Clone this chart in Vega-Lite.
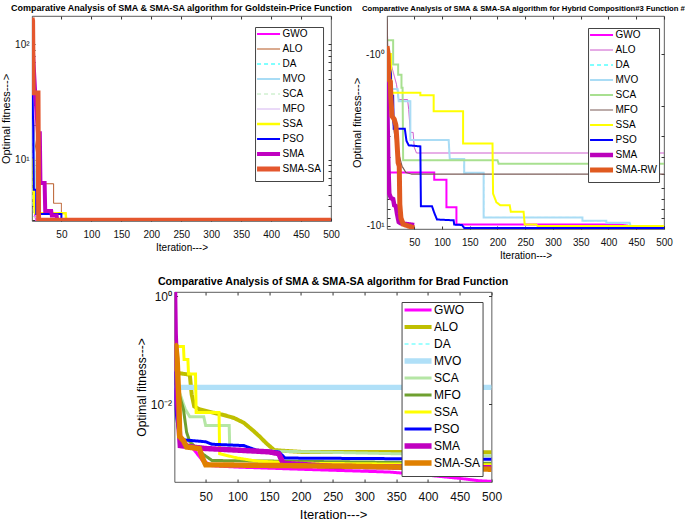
{
"$schema": "https://vega.github.io/schema/vega-lite/v6.json",
"background": "white",
"padding": {"left": 0, "top": 3, "right": 0, "bottom": 0},
"config": {
  "font": "Liberation Sans",
  "view": {"stroke": "#333", "strokeWidth": 0.8},
  "axis": {"grid": false, "domain": false, "tickColor": "#333", "labelColor": "#111", "titleColor": "#000", "titleFontWeight": "normal", "labelFont": "Liberation Sans", "titleFont": "Liberation Sans", "labelFlush": false, "labelOverlap": false},
  "title": {"font": "Liberation Sans", "fontWeight": "bold", "color": "#000"},
  "legend": {"title": null, "orient": "none", "symbolType": "M-5.75,0H5.75", "symbolSize": 16, "padding": 2, "symbolOffset": 6.5, "labelOffset": 9, "fillColor": "#fff", "strokeColor": "#444", "labelColor": "#000", "labelLimit": 200, "gridAlign": "all"}
},
"datasets": {
 "p1": [
  {"s":"GWO","x":1,"y":135},{"s":"GWO","x":2,"y":53},{"s":"GWO","x":3,"y":40},{"s":"GWO","x":4,"y":12},{"s":"GWO","x":5,"y":5},{"s":"GWO","x":6,"y":3.3},{"s":"GWO","x":8,"y":3.0},{"s":"GWO","x":500,"y":3.0},
  {"s":"ALO","x":1,"y":60},{"s":"ALO","x":5,"y":15},{"s":"ALO","x":10,"y":10.3},{"s":"ALO","x":12,"y":10.3},{"s":"ALO","x":13,"y":6.2},{"s":"ALO","x":37,"y":6.2},{"s":"ALO","x":37,"y":4.2},{"s":"ALO","x":50,"y":4.2},{"s":"ALO","x":50,"y":3.0},{"s":"ALO","x":500,"y":3.0},
  {"s":"DA","x":1,"y":51},{"s":"DA","x":3,"y":20},{"s":"DA","x":5,"y":10},{"s":"DA","x":7,"y":5.5},{"s":"DA","x":12,"y":3.2},{"s":"DA","x":14,"y":3.0},{"s":"DA","x":500,"y":3.0},
  {"s":"MVO","x":1,"y":51},{"s":"MVO","x":3,"y":20},{"s":"MVO","x":5,"y":10},{"s":"MVO","x":7,"y":5.5},{"s":"MVO","x":12,"y":3.2},{"s":"MVO","x":14,"y":3.0},{"s":"MVO","x":500,"y":3.0},
  {"s":"SCA","x":1,"y":20},{"s":"SCA","x":2,"y":4.4},{"s":"SCA","x":4,"y":3.2},{"s":"SCA","x":20,"y":3.05},{"s":"SCA","x":500,"y":3.0},
  {"s":"MFO","x":1,"y":30},{"s":"MFO","x":4,"y":5},{"s":"MFO","x":8,"y":3.0},{"s":"MFO","x":500,"y":3.0},
  {"s":"SSA","x":1,"y":10},{"s":"SSA","x":3,"y":10},{"s":"SSA","x":4,"y":4.5},{"s":"SSA","x":6,"y":3.45},{"s":"SSA","x":57,"y":3.45},{"s":"SSA","x":58,"y":3.0},{"s":"SSA","x":500,"y":3.0},
  {"s":"PSO","x":1,"y":100},{"s":"PSO","x":2,"y":32},{"s":"PSO","x":3,"y":19},{"s":"PSO","x":4,"y":5.5},{"s":"PSO","x":8,"y":5.5},{"s":"PSO","x":8,"y":3.4},{"s":"PSO","x":50,"y":3.4},{"s":"PSO","x":50,"y":3.04},{"s":"PSO","x":500,"y":3.04},
  {"s":"SMA","x":1,"y":120},{"s":"SMA","x":6,"y":40},{"s":"SMA","x":11,"y":17},{"s":"SMA","x":14,"y":17},{"s":"SMA","x":15,"y":6.3},{"s":"SMA","x":22,"y":6.3},{"s":"SMA","x":23,"y":3.6},{"s":"SMA","x":33,"y":3.6},{"s":"SMA","x":34,"y":3.3},{"s":"SMA","x":42,"y":3.3},{"s":"SMA","x":43,"y":3.0},{"s":"SMA","x":500,"y":3.0},
  {"s":"SMA-SA","x":1,"y":170},{"s":"SMA-SA","x":2,"y":160},{"s":"SMA-SA","x":3,"y":38},{"s":"SMA-SA","x":11,"y":38},{"s":"SMA-SA","x":12,"y":3.0},{"s":"SMA-SA","x":500,"y":3.0}
 ],
 "p2": [
  {"s":"GWO","x":1,"y":-1.3},{"s":"GWO","x":3,"y":-4.9},{"s":"GWO","x":86,"y":-4.9},{"s":"GWO","x":86,"y":-5.4},{"s":"GWO","x":108,"y":-5.4},{"s":"GWO","x":108,"y":-7.8},{"s":"GWO","x":126,"y":-7.8},{"s":"GWO","x":126,"y":-9.85},{"s":"GWO","x":420,"y":-9.85},{"s":"GWO","x":440,"y":-10.05},{"s":"GWO","x":500,"y":-10.05},
  {"s":"ALO","x":1,"y":-0.9},{"s":"ALO","x":10,"y":-1.2},{"s":"ALO","x":18,"y":-1.5},{"s":"ALO","x":22,"y":-1.84},{"s":"ALO","x":38,"y":-1.84},{"s":"ALO","x":40,"y":-2.1},{"s":"ALO","x":43,"y":-2.86},{"s":"ALO","x":48,"y":-2.86},{"s":"ALO","x":50,"y":-3.49},{"s":"ALO","x":54,"y":-3.77},{"s":"ALO","x":500,"y":-3.77},
  {"s":"DA","x":1,"y":-0.9},{"s":"DA","x":8,"y":-1.4},{"s":"DA","x":9,"y":-1.6},{"s":"DA","x":20,"y":-1.6},{"s":"DA","x":22,"y":-1.88},{"s":"DA","x":43,"y":-1.88},{"s":"DA","x":43,"y":-3.17},{"s":"DA","x":112,"y":-3.17},{"s":"DA","x":114,"y":-4.08},{"s":"DA","x":140,"y":-4.08},{"s":"DA","x":140,"y":-4.92},{"s":"DA","x":175,"y":-4.92},{"s":"DA","x":175,"y":-8.95},{"s":"DA","x":353,"y":-8.95},{"s":"DA","x":353,"y":-9.35},{"s":"DA","x":396,"y":-9.35},{"s":"DA","x":396,"y":-9.6},{"s":"DA","x":438,"y":-9.6},{"s":"DA","x":440,"y":-10.1},{"s":"DA","x":500,"y":-10.1},
  {"s":"MVO","x":1,"y":-0.9},{"s":"MVO","x":8,"y":-1.4},{"s":"MVO","x":9,"y":-1.6},{"s":"MVO","x":20,"y":-1.6},{"s":"MVO","x":22,"y":-1.88},{"s":"MVO","x":43,"y":-1.88},{"s":"MVO","x":43,"y":-3.17},{"s":"MVO","x":112,"y":-3.17},{"s":"MVO","x":114,"y":-4.08},{"s":"MVO","x":140,"y":-4.08},{"s":"MVO","x":140,"y":-4.92},{"s":"MVO","x":175,"y":-4.92},{"s":"MVO","x":175,"y":-8.95},{"s":"MVO","x":353,"y":-8.95},{"s":"MVO","x":353,"y":-9.35},{"s":"MVO","x":396,"y":-9.35},{"s":"MVO","x":396,"y":-9.6},{"s":"MVO","x":438,"y":-9.6},{"s":"MVO","x":440,"y":-10.1},{"s":"MVO","x":500,"y":-10.1},
  {"s":"SCA","x":1,"y":-0.83},{"s":"SCA","x":12,"y":-0.83},{"s":"SCA","x":12,"y":-1.15},{"s":"SCA","x":21,"y":-1.15},{"s":"SCA","x":21,"y":-1.32},{"s":"SCA","x":27,"y":-1.32},{"s":"SCA","x":27,"y":-1.57},{"s":"SCA","x":29,"y":-1.57},{"s":"SCA","x":30,"y":-4.15},{"s":"SCA","x":200,"y":-4.15},{"s":"SCA","x":202,"y":-4.35},{"s":"SCA","x":500,"y":-4.35},
  {"s":"MFO","x":1,"y":-0.62},{"s":"MFO","x":3,"y":-1.2},{"s":"MFO","x":8,"y":-2.0},{"s":"MFO","x":15,"y":-3.0},{"s":"MFO","x":22,"y":-3.8},{"s":"MFO","x":28,"y":-4.5},{"s":"MFO","x":35,"y":-4.9},{"s":"MFO","x":45,"y":-5.0},{"s":"MFO","x":500,"y":-5.0},
  {"s":"SSA","x":1,"y":-1.0},{"s":"SSA","x":8,"y":-1.0},{"s":"SSA","x":9,"y":-1.68},{"s":"SSA","x":61,"y":-1.68},{"s":"SSA","x":61,"y":-1.74},{"s":"SSA","x":85,"y":-1.74},{"s":"SSA","x":85,"y":-2.15},{"s":"SSA","x":138,"y":-2.15},{"s":"SSA","x":138,"y":-3.32},{"s":"SSA","x":191,"y":-3.32},{"s":"SSA","x":192,"y":-6.5},{"s":"SSA","x":198,"y":-7.3},{"s":"SSA","x":205,"y":-7.6},{"s":"SSA","x":222,"y":-7.6},{"s":"SSA","x":224,"y":-8.3},{"s":"SSA","x":247,"y":-8.3},{"s":"SSA","x":249,"y":-9.85},{"s":"SSA","x":270,"y":-9.85},{"s":"SSA","x":272,"y":-10.05},{"s":"SSA","x":500,"y":-10.05},
  {"s":"PSO","x":1,"y":-1.0},{"s":"PSO","x":8,"y":-1.3},{"s":"PSO","x":9,"y":-1.75},{"s":"PSO","x":12,"y":-1.75},{"s":"PSO","x":13,"y":-2.72},{"s":"PSO","x":33,"y":-2.72},{"s":"PSO","x":36,"y":-3.2},{"s":"PSO","x":40,"y":-3.4},{"s":"PSO","x":61,"y":-3.45},{"s":"PSO","x":62,"y":-7.7},{"s":"PSO","x":82,"y":-7.7},{"s":"PSO","x":86,"y":-8.4},{"s":"PSO","x":91,"y":-9.2},{"s":"PSO","x":121,"y":-9.3},{"s":"PSO","x":122,"y":-9.85},{"s":"PSO","x":136,"y":-9.9},{"s":"PSO","x":140,"y":-10.3},{"s":"PSO","x":500,"y":-10.3},
  {"s":"SMA","x":1,"y":-1.4},{"s":"SMA","x":2,"y":-2.5},{"s":"SMA","x":3,"y":-4.0},{"s":"SMA","x":4,"y":-5.2},{"s":"SMA","x":5,"y":-6.5},{"s":"SMA","x":8,"y":-6.9},{"s":"SMA","x":12,"y":-7.0},{"s":"SMA","x":14,"y":-7.6},{"s":"SMA","x":17,"y":-7.7},{"s":"SMA","x":19,"y":-8.5},{"s":"SMA","x":22,"y":-9.5},{"s":"SMA","x":26,"y":-9.7},{"s":"SMA","x":50,"y":-9.9},
  {"s":"SMA-RW","x":1,"y":-0.9},{"s":"SMA-RW","x":3,"y":-1.0},{"s":"SMA-RW","x":4,"y":-1.4},{"s":"SMA-RW","x":7,"y":-1.45},{"s":"SMA-RW","x":8,"y":-1.8},{"s":"SMA-RW","x":10,"y":-2.3},{"s":"SMA-RW","x":14,"y":-2.4},{"s":"SMA-RW","x":17,"y":-2.6},{"s":"SMA-RW","x":19,"y":-3.3},{"s":"SMA-RW","x":21,"y":-4.3},{"s":"SMA-RW","x":23,"y":-4.5},{"s":"SMA-RW","x":24,"y":-7.5},{"s":"SMA-RW","x":26,"y":-9.0},{"s":"SMA-RW","x":30,"y":-9.8},{"s":"SMA-RW","x":38,"y":-10.0},{"s":"SMA-RW","x":50,"y":-10.3}
 ],
 "p3": [
  {"s":"GWO","x":1,"y":0.02},{"s":"GWO","x":4,"y":0.008},{"s":"GWO","x":10,"y":0.0025},{"s":"GWO","x":20,"y":0.0018},{"s":"GWO","x":30,"y":0.0015},{"s":"GWO","x":45,"y":0.0009},{"s":"GWO","x":60,"y":0.00072},{"s":"GWO","x":100,"y":0.00068},{"s":"GWO","x":200,"y":0.00062},{"s":"GWO","x":340,"y":0.00055},{"s":"GWO","x":400,"y":0.00048},{"s":"GWO","x":450,"y":0.00042},{"s":"GWO","x":480,"y":0.00038},{"s":"GWO","x":500,"y":0.00037},
  {"s":"ALO","x":1,"y":0.05},{"s":"ALO","x":5,"y":0.04},{"s":"ALO","x":10,"y":0.037},{"s":"ALO","x":25,"y":0.035},{"s":"ALO","x":28,"y":0.015},{"s":"ALO","x":32,"y":0.009},{"s":"ALO","x":40,"y":0.008},{"s":"ALO","x":60,"y":0.007},{"s":"ALO","x":80,"y":0.0062},{"s":"ALO","x":95,"y":0.0055},{"s":"ALO","x":110,"y":0.0045},{"s":"ALO","x":125,"y":0.0032},{"s":"ALO","x":135,"y":0.0025},{"s":"ALO","x":145,"y":0.0019},{"s":"ALO","x":158,"y":0.0014},{"s":"ALO","x":200,"y":0.0013},{"s":"ALO","x":500,"y":0.00128},
  {"s":"DA","x":1,"y":0.0204},{"s":"DA","x":500,"y":0.0204},
  {"s":"MVO","x":1,"y":0.0204},{"s":"MVO","x":500,"y":0.0204},
  {"s":"SCA","x":1,"y":0.03},{"s":"SCA","x":10,"y":0.015},{"s":"SCA","x":15,"y":0.01},{"s":"SCA","x":18,"y":0.008},{"s":"SCA","x":25,"y":0.0058},{"s":"SCA","x":47,"y":0.0058},{"s":"SCA","x":50,"y":0.004},{"s":"SCA","x":87,"y":0.004},{"s":"SCA","x":88,"y":0.0014},{"s":"SCA","x":500,"y":0.0011},
  {"s":"MFO","x":1,"y":0.03},{"s":"MFO","x":15,"y":0.008},{"s":"MFO","x":20,"y":0.003},{"s":"MFO","x":25,"y":0.002},{"s":"MFO","x":45,"y":0.0012},{"s":"MFO","x":60,"y":0.0009},{"s":"MFO","x":500,"y":0.0008},
  {"s":"SSA","x":1,"y":0.15},{"s":"SSA","x":4,"y":0.12},{"s":"SSA","x":8,"y":0.117},{"s":"SSA","x":15,"y":0.117},{"s":"SSA","x":16,"y":0.067},{"s":"SSA","x":22,"y":0.067},{"s":"SSA","x":23,"y":0.036},{"s":"SSA","x":34,"y":0.036},{"s":"SSA","x":35,"y":0.007},{"s":"SSA","x":71,"y":0.007},{"s":"SSA","x":72,"y":0.0012},{"s":"SSA","x":100,"y":0.001},{"s":"SSA","x":130,"y":0.00088},{"s":"SSA","x":200,"y":0.0008},{"s":"SSA","x":500,"y":0.00075},
  {"s":"PSO","x":1,"y":0.04},{"s":"PSO","x":2,"y":0.02},{"s":"PSO","x":3,"y":0.008},{"s":"PSO","x":6,"y":0.004},{"s":"PSO","x":10,"y":0.0022},{"s":"PSO","x":50,"y":0.002},{"s":"PSO","x":60,"y":0.0018},{"s":"PSO","x":110,"y":0.0017},{"s":"PSO","x":130,"y":0.0014},{"s":"PSO","x":165,"y":0.0013},{"s":"PSO","x":175,"y":0.001},{"s":"PSO","x":500,"y":0.00095},
  {"s":"SMA","x":1,"y":1.2},{"s":"SMA","x":2,"y":0.2},{"s":"SMA","x":4,"y":0.05},{"s":"SMA","x":6,"y":0.01},{"s":"SMA","x":8,"y":0.004},{"s":"SMA","x":10,"y":0.0017},{"s":"SMA","x":50,"y":0.0015},{"s":"SMA","x":100,"y":0.0014},{"s":"SMA","x":150,"y":0.0013},{"s":"SMA","x":165,"y":0.0012},{"s":"SMA","x":172,"y":0.0008},{"s":"SMA","x":250,"y":0.0007},{"s":"SMA","x":500,"y":0.00066},
  {"s":"SMA-SA","x":1,"y":0.13},{"s":"SMA-SA","x":3,"y":0.12},{"s":"SMA-SA","x":5,"y":0.07},{"s":"SMA-SA","x":8,"y":0.01},{"s":"SMA-SA","x":9,"y":0.0025},{"s":"SMA-SA","x":15,"y":0.0021},{"s":"SMA-SA","x":20,"y":0.0016},{"s":"SMA-SA","x":40,"y":0.0015},{"s":"SMA-SA","x":45,"y":0.001},{"s":"SMA-SA","x":50,"y":0.00075},{"s":"SMA-SA","x":300,"y":0.0007},{"s":"SMA-SA","x":500,"y":0.00062}
 ]
},
"spacing": 14,
"center": true,
"resolve": {"scale": {"x": "independent", "y": "independent", "color": "independent", "strokeWidth": "independent", "strokeDash": "independent"}, "legend": {"color": "independent", "strokeWidth": "independent", "strokeDash": "independent"}, "axis": {"x": "independent", "y": "independent"}},
"vconcat": [
 {"hconcat": [
  {"width": 299, "height": 205,
   "title": {"text": "Comparative Analysis of SMA & SMA-SA algorithm for Goldstein-Price Function", "fontSize": 9, "offset": 3},
   "data": {"name": "p1"},
   "layer": [
    {"mark": {"type": "line", "clip": true},
     "encoding": {
      "x": {"field": "x", "type": "quantitative", "scale": {"domain": [1, 500], "nice": false},
            "axis": {"values": [50,100,150,200,250,300,350,400,450,500], "title": "Iteration--->", "labelFontSize": 10, "titleFontSize": 10, "tickSize": -3, "labelPadding": 11, "titlePadding": 3}},
      "y": {"field": "y", "type": "quantitative", "scale": {"type": "log", "domain": [2.95, 176], "nice": false},
            "axis": {"values": [3,4,5,6,7,8,9,10,20,30,40,50,60,70,80,90,100], "labelExpr": "datum.value == 10 ? '10¹' : datum.value == 100 ? '10²' : ''", "title": "Optimal fitness--->", "labelFontSize": 10, "titleFontSize": 11, "tickSize": -3, "labelPadding": 6, "titlePadding": 3}},
      "color": {"field": "s", "type": "nominal", "scale": {"domain": ["GWO","ALO","DA","MVO","SCA","MFO","SSA","PSO","SMA","SMA-SA"], "range": ["#ff00ff","#b5541e","#00ffff","#a8dcf5","#b8e8b8","#d4b4f0","#ffff00","#0000ff","#c000c0","#e4572e"]},
               "legend": {"legendX": 223, "legendY": 11, "labelFontSize": 10, "rowPadding": -5}},
      "strokeWidth": {"field": "s", "type": "nominal", "scale": {"type": "ordinal", "domain": ["GWO","ALO","DA","MVO","SCA","MFO","SSA","PSO","SMA","SMA-SA"], "range": [1.8,1,1,2,1,1,2.5,2,4,4.9]}},
      "strokeDash": {"field": "s", "type": "nominal", "scale": {"domain": ["GWO","ALO","DA","MVO","SCA","MFO","SSA","PSO","SMA","SMA-SA"], "range": [[1,0],[1,0],[4,3],[1,0],[4,3],[1,0],[1,0],[1,0],[1,0],[1,0]]}},
      "order": {"value": null}
     }},
    {"mark": {"type": "line", "opacity": 0},
     "encoding": {
      "x": {"field": "x", "type": "quantitative", "scale": {"domain": [1, 500], "nice": false},
            "axis": {"orient": "top", "values": [50,100,150,200,250,300,350,400,450,500], "labels": false, "title": null, "tickSize": -3}},
      "y": {"field": "y", "type": "quantitative", "scale": {"type": "log", "domain": [2.95, 176], "nice": false},
            "axis": {"orient": "right", "values": [3,4,5,6,7,8,9,10,20,30,40,50,60,70,80,90,100], "labels": false, "title": null, "tickSize": -3}}
     }}
   ],
   "resolve": {"axis": {"x": "independent", "y": "independent"}}
  },
  {"width": 277, "height": 213,
   "title": {"text": "Comparative Analysis of SMA & SMA-SA algorithm for Hybrid Composition#3 Function #3", "fontSize": 7.7, "offset": 3},
   "data": {"name": "p2"},
   "layer": [
    {"mark": {"type": "line", "clip": true},
     "encoding": {
      "x": {"field": "x", "type": "quantitative", "scale": {"domain": [1, 500], "nice": false},
            "axis": {"values": [50,100,150,200,250,300,350,400,450,500], "title": "Iteration--->", "labelFontSize": 10, "titleFontSize": 10, "tickSize": -3, "labelPadding": 11, "titlePadding": 3}},
      "y": {"field": "y", "type": "quantitative", "scale": {"type": "log", "domain": [-10.45, -0.6], "nice": false},
            "axis": {"values": [-1,-2,-3,-4,-5,-6,-7,-8,-9,-10], "labelExpr": "datum.value == -1 ? '-10⁰' : datum.value == -10 ? '-10¹' : ''", "title": "Optimal fitness--->", "labelFontSize": 10, "titleFontSize": 11, "tickSize": -3, "labelPadding": 6, "titlePadding": 3}},
      "color": {"field": "s", "type": "nominal", "scale": {"domain": ["GWO","ALO","DA","MVO","SCA","MFO","SSA","PSO","SMA","SMA-RW"], "range": ["#ff00ff","#cc55cc","#00ffff","#aadcf5","#a8e090","#7a5a56","#ffff00","#0000ff","#bb00bb","#e05a20"]},
               "legend": {"legendX": 201, "legendY": 12, "labelFontSize": 10, "rowPadding": -5.2}},
      "strokeWidth": {"field": "s", "type": "nominal", "scale": {"type": "ordinal", "domain": ["GWO","ALO","DA","MVO","SCA","MFO","SSA","PSO","SMA","SMA-RW"], "range": [2,1,1,2,2,1.2,2,2,4.5,5]}},
      "strokeDash": {"field": "s", "type": "nominal", "scale": {"domain": ["GWO","ALO","DA","MVO","SCA","MFO","SSA","PSO","SMA","SMA-RW"], "range": [[1,0],[1,0],[4,3],[1,0],[1,0],[1,0],[1,0],[1,0],[1,0],[1,0]]}},
      "order": {"value": null}
     }},
    {"mark": {"type": "line", "opacity": 0},
     "encoding": {
      "x": {"field": "x", "type": "quantitative", "scale": {"domain": [1, 500], "nice": false},
            "axis": {"orient": "top", "values": [50,100,150,200,250,300,350,400,450,500], "labels": false, "title": null, "tickSize": -3}},
      "y": {"field": "y", "type": "quantitative", "scale": {"type": "log", "domain": [-10.45, -0.6], "nice": false},
            "axis": {"orient": "right", "values": [-1,-2,-3,-4,-5,-6,-7,-8,-9,-10], "labels": false, "title": null, "tickSize": -3}}
     }}
   ],
   "resolve": {"axis": {"x": "independent", "y": "independent"}}
  }
 ], "spacing": -2,
 "resolve": {"scale": {"x": "independent", "y": "independent", "color": "independent", "strokeWidth": "independent", "strokeDash": "independent"}, "legend": {"color": "independent", "strokeWidth": "independent", "strokeDash": "independent"}, "axis": {"x": "independent", "y": "independent"}}},
 {"width": 317, "height": 190,
  "title": {"text": "Comparative Analysis of SMA & SMA-SA algorithm for Brad Function", "fontSize": 10.7, "offset": 2},
  "data": {"name": "p3"},
  "layer": [
   {"mark": {"type": "line", "clip": true},
    "encoding": {
     "x": {"field": "x", "type": "quantitative", "scale": {"domain": [1, 500], "nice": false},
           "axis": {"values": [50,100,150,200,250,300,350,400,450,500], "title": "Iteration--->", "labelFontSize": 12, "titleFontSize": 13, "tickSize": -3, "labelPadding": 12, "titlePadding": 6}},
     "y": {"field": "y", "type": "quantitative", "scale": {"type": "log", "domain": [0.00036, 1.19], "nice": false},
           "axis": {"values": [1, 0.01], "labelExpr": "datum.value == 1 ? '10⁰' : '10⁻²'", "title": "Optimal fitness--->", "labelFontSize": 12, "titleFontSize": 12, "tickSize": -3, "labelPadding": 6, "titlePadding": 2}},
     "color": {"field": "s", "type": "nominal", "scale": {"domain": ["GWO","ALO","DA","MVO","SCA","MFO","SSA","PSO","SMA","SMA-SA"], "range": ["#ff00ff","#bfbf00","#80ffff","#b0e0f8","#b5e6a5","#6fa030","#ffff00","#0000ff","#c000c0","#e08000"]},
              "legend": {"legendX": 227, "legendY": 10, "labelFontSize": 12, "rowPadding": -5.8, "symbolType": "M-6.75,0H6.75", "symbolOffset": 8.5, "labelOffset": 10}},
     "strokeWidth": {"field": "s", "type": "nominal", "scale": {"type": "ordinal", "domain": ["GWO","ALO","DA","MVO","SCA","MFO","SSA","PSO","SMA","SMA-SA"], "range": [3,4,1.5,5.4,3,3,3,3,5.4,5.4]}},
     "strokeDash": {"field": "s", "type": "nominal", "scale": {"domain": ["GWO","ALO","DA","MVO","SCA","MFO","SSA","PSO","SMA","SMA-SA"], "range": [[1,0],[1,0],[4,3],[1,0],[1,0],[1,0],[1,0],[1,0],[1,0],[1,0]]}},
     "order": {"value": null}
    }},
   {"mark": {"type": "line", "opacity": 0},
    "encoding": {
     "x": {"field": "x", "type": "quantitative", "scale": {"domain": [1, 500], "nice": false},
           "axis": {"orient": "top", "values": [50,100,150,200,250,300,350,400,450,500], "labels": false, "title": null, "tickSize": -3}},
     "y": {"field": "y", "type": "quantitative", "scale": {"type": "log", "domain": [0.00036, 1.19], "nice": false},
           "axis": {"orient": "right", "values": [1, 0.01], "labels": false, "title": "x", "titleOpacity": 0, "titleFontSize": 12, "titlePadding": 42, "tickSize": -3}}
    }}
  ],
  "resolve": {"axis": {"x": "independent", "y": "independent"}}
 }
]
}
